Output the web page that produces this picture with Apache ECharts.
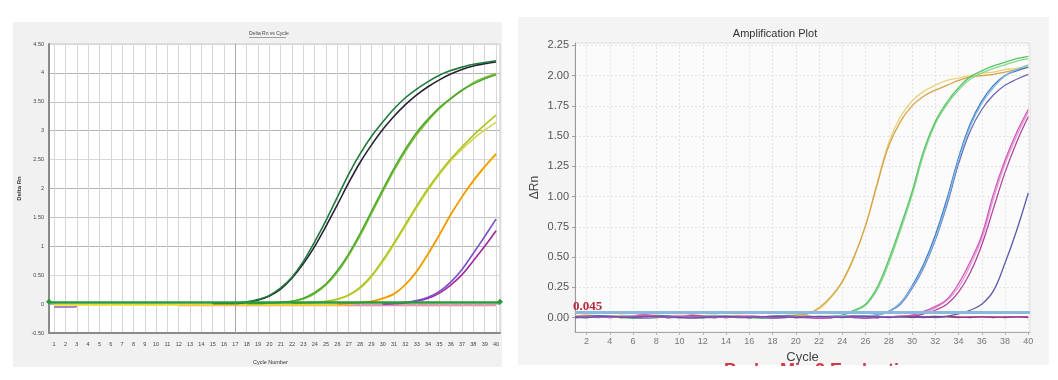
<!DOCTYPE html>
<html><head><meta charset="utf-8">
<script src="https://cdn.jsdelivr.net/npm/echarts@6/dist/echarts.min.js"></script>
<style>html,body{margin:0;padding:0;background:#fff;}#c{width:1058px;height:380px;}</style>
</head><body><div id="c"></div>
<script>
// ---------- tick labels ----------
const leftCycleTicks = [1,2,3,4,5,6,7,8,9,10,11,12,13,14,15,16,17,18,19,20,21,22,23,24,25,26,27,28,29,30,31,32,33,34,35,36,37,38,39,40];
const rightCycleTicks = [2,4,6,8,10,12,14,16,18,20,22,24,26,28,30,32,34,36,38,40];
const rightYTicks = [0,0.25,0.5,0.75,1,1.25,1.5,1.75,2,2.25];

// ---------- left panel (Delta Rn vs Cycle), each series ends at cycle 40 ----------
const leftDarkGreen = [0.02,0.02,0.02,0.04,0.08,0.15,0.28,0.47,0.74,1.08,1.45,1.85,2.25,2.6,2.9,3.15,3.38,3.57,3.72,3.85,3.96,4.04,4.1,4.15,4.18,4.21];
const leftBlack = [0.01,0.01,0.01,0.03,0.07,0.14,0.26,0.45,0.7,1.0,1.35,1.72,2.1,2.45,2.75,3.02,3.25,3.45,3.62,3.76,3.88,3.98,4.06,4.12,4.16,4.19];
const leftGreen1 = [0.01,0.01,0.02,0.03,0.05,0.1,0.2,0.35,0.58,0.87,1.22,1.6,1.98,2.35,2.68,2.97,3.2,3.4,3.56,3.7,3.81,3.9,3.97];
const leftGreen2 = [0.01,0.01,0.02,0.03,0.05,0.09,0.18,0.33,0.55,0.84,1.18,1.56,1.94,2.31,2.64,2.93,3.17,3.38,3.55,3.7,3.83,3.92,3.99];
const leftLime1 = [0.01,0.02,0.03,0.05,0.09,0.16,0.29,0.49,0.76,1.06,1.38,1.7,2.0,2.27,2.51,2.72,2.92,3.1,3.27];
const leftLime2 = [0.01,0.02,0.03,0.04,0.08,0.15,0.27,0.47,0.73,1.03,1.35,1.67,1.97,2.24,2.48,2.68,2.86,3.01,3.15];
const leftOrange = [0.0,0.01,0.03,0.05,0.1,0.18,0.34,0.57,0.87,1.2,1.55,1.86,2.14,2.38,2.6];
const leftYellow = [-0.015,-0.015,-0.015,-0.015,-0.015,-0.015,-0.015,-0.015,-0.015,-0.015,-0.015,-0.015,-0.015,-0.015,-0.015,-0.015,-0.015,-0.015,-0.015,-0.015,-0.015,-0.015,-0.015,-0.015,-0.015,-0.01,0.0,0.02,0.04,0.09,0.17,0.33,0.56,0.86,1.19,1.54,1.85,2.12,2.37,2.58];
const leftViolet = [0.0,0.01,0.03,0.06,0.12,0.22,0.38,0.6,0.88,1.17,1.47];
const leftPurple = [0.0,0.01,0.02,0.05,0.1,0.19,0.33,0.51,0.75,1.0,1.27];
const leftPinkNtc = [-0.025,-0.025,-0.025,-0.025,-0.025,-0.025,-0.025,-0.025,-0.025,-0.025,-0.025,-0.025,-0.025,-0.025,-0.025,-0.025,-0.025,-0.025,-0.025,-0.025,-0.025,-0.025,-0.025,-0.025,-0.025,-0.025,-0.025,-0.025,-0.025];
const leftPurpleStart = [-0.05,-0.05,-0.045]; // cycles 1..3
const leftThreshold = 0.035;
const leftMarkCycle = 17;

// ---------- right panel (Amplification Plot), each series ends at cycle 40 ----------
const rTan = [0.01,0.02,0.015,0.005,0.0,0.005,0.015,0.02,0.01,0.0,0.005,0.015,0.02,0.01,0.005,0.0,0.005,0.01,0.015,0.02,0.03,0.08,0.17,0.3,0.5,0.76,1.1,1.42,1.62,1.75,1.83,1.88,1.92,1.96,1.99,2.0,2.01,2.03,2.05,2.07];
const rPale = [0.015,0.01,0.005,0.01,0.02,0.015,0.005,0.0,0.01,0.02,0.015,0.005,0.0,0.01,0.02,0.015,0.005,0.01,0.015,0.02,0.03,0.07,0.16,0.29,0.49,0.76,1.11,1.45,1.66,1.79,1.87,1.92,1.96,1.98,2.0,2.02,2.03,2.05,2.06,2.08];
const rGreen1 = [0.0,0.005,0.01,0.005,0.0,-0.005,0.0,0.005,0.01,0.005,0.0,0.0,0.005,0.01,0.005,0.0,-0.005,0.0,0.005,0.01,0.01,0.005,0.01,0.02,0.06,0.11,0.25,0.48,0.75,1.04,1.38,1.62,1.78,1.9,1.99,2.04,2.08,2.11,2.14,2.16];
const rGreen2 = [0.005,0.0,0.005,0.01,0.01,0.005,0.0,0.0,0.005,0.01,0.01,0.005,0.0,0.005,0.01,0.005,0.0,0.005,0.01,0.01,0.005,0.01,0.01,0.02,0.05,0.1,0.23,0.45,0.72,1.01,1.35,1.6,1.76,1.88,1.97,2.02,2.06,2.09,2.12,2.14];
const rLightBlue = [0.01,0.005,0.0,0.005,0.01,0.015,0.01,0.005,0.0,0.0,0.005,0.01,0.015,0.01,0.005,0.0,0.005,0.01,0.01,0.005,0.0,0.005,0.01,0.015,0.01,0.015,0.02,0.05,0.12,0.25,0.42,0.65,0.95,1.3,1.58,1.77,1.9,2.0,2.05,2.09];
const rBluePurple = [0.0,0.0,0.005,0.01,0.005,0.0,-0.005,0.0,0.005,0.01,0.005,0.0,0.0,0.005,0.01,0.005,0.0,-0.005,0.0,0.005,0.01,0.005,0.0,0.005,0.01,0.015,0.02,0.05,0.11,0.24,0.41,0.64,0.93,1.27,1.54,1.72,1.84,1.92,1.97,2.01];
const rBlue = [0.005,0.01,0.015,0.01,0.005,0.0,0.005,0.01,0.015,0.01,0.005,0.0,0.005,0.01,0.005,0.0,0.005,0.01,0.015,0.01,0.005,0.0,0.005,0.01,0.015,0.015,0.02,0.05,0.12,0.26,0.44,0.68,0.98,1.32,1.6,1.79,1.92,2.0,2.04,2.07];
const rMagenta1 = [0.005,0.01,0.005,0.0,0.005,0.01,0.02,0.01,0.0,0.005,0.01,0.005,0.0,0.005,0.01,0.005,0.0,0.005,0.01,0.005,0.0,-0.005,0.0,0.005,0.0,0.005,0.01,0.005,0.01,0.02,0.05,0.09,0.15,0.28,0.46,0.68,1.02,1.3,1.53,1.72];
const rMagenta2 = [0.0,0.005,0.01,0.005,0.0,0.005,0.01,0.005,0.0,0.005,0.015,0.01,0.005,0.0,0.005,0.01,0.005,0.0,0.0,0.005,0.01,0.005,0.0,0.005,0.01,0.005,0.0,0.005,0.01,0.01,0.03,0.06,0.11,0.21,0.37,0.6,0.9,1.2,1.45,1.66];
const rPink = [0.01,0.005,0.0,0.005,0.01,0.005,0.0,0.005,0.01,0.015,0.01,0.005,0.0,0.005,0.01,0.015,0.01,0.005,0.0,0.005,0.01,0.005,0.0,0.005,0.01,0.005,0.0,0.005,0.01,0.015,0.04,0.08,0.14,0.25,0.43,0.65,0.98,1.27,1.5,1.7];
const rIndigo = [0.005,0.0,0.005,0.01,0.005,0.0,0.005,0.01,0.005,0.0,-0.005,0.0,0.005,0.01,0.005,0.0,0.005,0.01,0.005,0.0,0.005,0.01,0.005,0.0,0.005,0.01,0.005,0.0,0.005,0.01,0.005,0.0,0.01,0.03,0.06,0.11,0.22,0.45,0.72,1.03];
const rNtcPurple = [0.01,0.015,0.01,0.005,0.01,0.015,0.02,0.015,0.005,0.0,0.005,0.01,0.01,0.005,0.0,0.0,0.005,0.01,0.005,0.0,0.0,-0.005,0.0,0.005,0.0,-0.005,0.0,0.005,0.01,0.005,0.0,0.005,0.01,0.005,0.0,0.005,0.005,0.0,0.005,0.005];
const rNtcRed = [0.0,0.005,0.005,0.0,0.005,0.015,0.02,0.01,0.0,0.005,0.02,0.015,0.005,0.0,0.005,0.01,0.005,0.0,0.005,0.01,0.005,0.0,0.0,0.005,0.01,0.005,0.0,0.005,0.005,0.0,0.005,0.01,0.005,0.0,0.005,0.005,0.0,0.005,0.005,0.0];
const rThreshold = 0.045;

function tail(vals){ const s = 41 - vals.length; return vals.map((v,i)=>[s+i, v]); }
function head(vals){ return vals.map((v,i)=>[1+i, v]); }

const leftDefs = [
  [tail(leftPinkNtc), '#f08ca2'],
  [head(leftPurpleStart), '#8a64b8'],
  [tail(leftYellow), '#f2e20e'],
  [tail(leftOrange), '#f39410'],
  [tail(leftLime2), '#d2d64c'],
  [tail(leftLime1), '#aac422'],
  [tail(leftGreen2), '#86c542'],
  [tail(leftGreen1), '#4ea82e'],
  [tail(leftBlack), '#2a2236'],
  [tail(leftDarkGreen), '#1c7a3a'],
  [tail(leftPurple), '#a2279c'],
  [tail(leftViolet), '#7b50c6']
];
const rightDefs = [
  [tail(rNtcRed), '#b8404e'],
  [tail(rNtcPurple), '#8a3a9a'],
  [tail(rPale), '#e6d27a'],
  [tail(rTan), '#d6a24a'],
  [tail(rGreen2), '#86d690'],
  [tail(rGreen1), '#58c464'],
  [tail(rBluePurple), '#6c6cb6'],
  [tail(rBlue), '#3e7cc6'],
  [tail(rLightBlue), '#80b8e2'],
  [tail(rPink), '#e39ad6'],
  [tail(rMagenta2), '#b0449f'],
  [tail(rMagenta1), '#d257b9'],
  [tail(rIndigo), '#5a5aa8']
];

const series = [];
leftDefs.forEach(([d,c])=>series.push({type:'line', xAxisIndex:0, yAxisIndex:0, data:d, showSymbol:false, smooth:0.3,
  lineStyle:{color:c, width:1.6}, silent:true}));
series.push({type:'line', xAxisIndex:0, yAxisIndex:0, data:[], silent:true,
  markLine:{silent:true, symbol:'none', label:{show:false}, animation:false,
    lineStyle:{color:'#a6a6a6', width:1, type:'solid'}, data:[{xAxis:leftMarkCycle}]}});
series.push({type:'line', xAxisIndex:0, yAxisIndex:0, data:[], silent:true,
  markLine:{silent:true, symbol:['diamond','diamond'], symbolSize:6, label:{show:false}, animation:false,
    lineStyle:{color:'#2a9a3c', width:2.5, type:'solid'}, itemStyle:{color:'#1f7a30'}, data:[{yAxis:leftThreshold}]}});
rightDefs.forEach(([d,c])=>series.push({type:'line', xAxisIndex:1, yAxisIndex:1, data:d, showSymbol:false, smooth:0.4,
  lineStyle:{color:c, width:1.3}, silent:true}));
series.push({type:'line', xAxisIndex:1, yAxisIndex:1, data:[], silent:true,
  markLine:{silent:true, symbol:'none', animation:false,
    lineStyle:{color:'#8db8de', width:3, type:'solid'},
    label:{show:true, position:'insideStartTop', formatter:String(rThreshold), color:'#b3283c',
      fontFamily:'Liberation Serif', fontWeight:'bold', fontSize:13, distance:[ -2, 0 ]},
    data:[{yAxis:rThreshold}]}});

const FONT = 'Liberation Sans';
const option = {
  animation:false,
  backgroundColor:'#ffffff',
  grid:[
    {left:49, top:44, width:451, height:289, show:true, backgroundColor:'#ffffff', borderColor:'#c8c8c8', borderWidth:1},
    {left:575, top:43, width:455, height:289, show:true, backgroundColor:'#fbfbfb', borderColor:'#dedede', borderWidth:1}
  ],
  xAxis:[
    {type:'value', gridIndex:0, min:0.55, max:40.35,
     axisLine:{show:true, onZero:false, lineStyle:{color:'#8a8a8a', width:2}},
     axisTick:{show:false, customValues:leftCycleTicks},
     axisLabel:{customValues:leftCycleTicks, fontSize:5.5, color:'#444', fontFamily:FONT, margin:8},
     splitLine:{show:true, lineStyle:{color:'#d6d6d6', width:1}}},
    {type:'value', gridIndex:1, min:1, max:40.15,
     axisLine:{show:true, onZero:false, lineStyle:{color:'#a8a8a8', width:1}},
     axisTick:{show:true, length:3, customValues:rightCycleTicks, lineStyle:{color:'#b0b0b0'}},
     axisLabel:{customValues:rightCycleTicks, fontSize:9, color:'#777', fontFamily:FONT, margin:5},
     splitLine:{show:true, lineStyle:{color:'#e4e4e4', width:1, type:[2,2]}},
     name:'Cycle', nameLocation:'middle', nameGap:15,
     nameTextStyle:{fontSize:13, color:'#444', fontFamily:FONT}}
  ],
  yAxis:[
    {type:'value', gridIndex:0, min:-0.5, max:4.5, interval:0.5,
     axisLine:{show:true, onZero:false, lineStyle:{color:'#8a8a8a', width:2}},
     axisTick:{show:false},
     axisLabel:{fontSize:5.5, color:'#444', fontFamily:FONT, margin:5,
       formatter:v=>Number.isInteger(v)?String(v):v.toFixed(2)},
     splitLine:{show:true, lineStyle:{color:['#c4c4c4','#b4b4b4','#d8d8d8','#b4b4b4'], width:1}},
     name:'Delta Rn', nameLocation:'middle', nameGap:27,
     nameTextStyle:{fontSize:6, color:'#333', fontWeight:'bold', fontFamily:FONT}},
    {type:'value', gridIndex:1, min:-0.12, max:2.27,
     axisLine:{show:true, onZero:false, lineStyle:{color:'#9a9a9a', width:1}},
     axisTick:{show:true, length:3, customValues:rightYTicks, lineStyle:{color:'#a0a0a0'}},
     axisLabel:{customValues:rightYTicks, fontSize:11, color:'#555', fontFamily:FONT, margin:6,
       formatter:v=>v.toFixed(2)},
     splitLine:{show:true, lineStyle:{color:'#e4e4e4', width:1, type:[2,2]}},
     name:'ΔRn', nameLocation:'middle', nameGap:34,
     nameTextStyle:{fontSize:12, color:'#444', fontFamily:FONT}}
  ],
  graphic:[
    {type:'rect', z:-100, shape:{x:13, y:22, width:489, height:345}, style:{fill:'#f1f1f1'}},
    {type:'rect', z:-100, shape:{x:518, y:17, width:531, height:348}, style:{fill:'#f4f4f4'}},
    {type:'text', z:10, x:249, y:34, style:{text:'Delta Rn vs Cycle', fontSize:5, fill:'#444', fontFamily:FONT, verticalAlign:'middle'}},
    {type:'line', z:10, shape:{x1:249, y1:37.5, x2:286, y2:37.5}, style:{stroke:'#666', lineWidth:0.6}},
    {type:'text', z:10, x:253, y:362, style:{text:'Cycle Number', fontSize:5.5, fill:'#333', fontFamily:FONT, verticalAlign:'middle'}},
    {type:'text', z:10, x:775, y:34, style:{text:'Amplification Plot', fontSize:11, fill:'#333', fontFamily:FONT, align:'center', verticalAlign:'middle'}},
    {type:'text', z:50, x:724, y:362, style:{text:'Probe Mix 2 Evaluation', fontSize:18, fontWeight:'bold', fill:'#d23a48', fontFamily:FONT, verticalAlign:'top'}},
    {type:'rect', z:100, shape:{x:510, y:366, width:548, height:14}, style:{fill:'#ffffff'}}
  ],
  series:series
};
const chart = echarts.init(document.getElementById('c'), null, {renderer:'canvas'});
chart.setOption(option);
</script></body></html>
